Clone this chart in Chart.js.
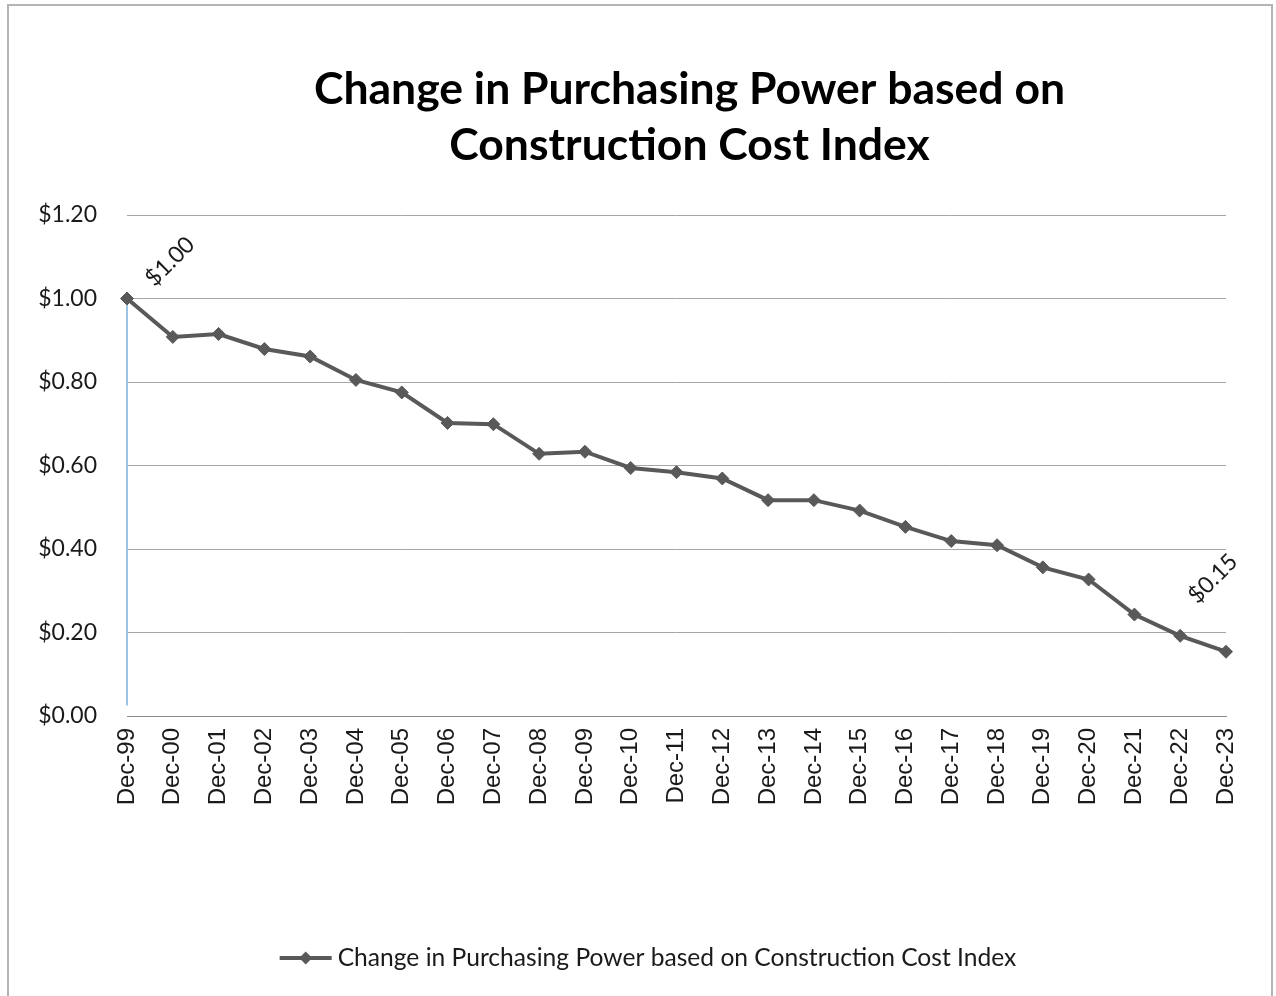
<!DOCTYPE html>
<html>
<head>
<meta charset="utf-8">
<title>Change in Purchasing Power based on Construction Cost Index</title>
<script src="https://cdn.jsdelivr.net/npm/chart.js@4.4.0/dist/chart.umd.min.js"></script>
<style>
html,body{margin:0;padding:0;background:#fff;}
#frame{position:absolute;left:7px;top:4px;width:1266px;height:1000px;border:2px solid #b4b4b4;box-sizing:border-box;background:#fff;}
#grafico{display:block;}
</style>
</head>
<body>
<div id="frame"><canvas id="grafico" width="1262" height="990"></canvas></div>
<script>
const periodos=[
    "Dec-99","Dec-00","Dec-01","Dec-02","Dec-03","Dec-04","Dec-05","Dec-06",
    "Dec-07","Dec-08","Dec-09","Dec-10","Dec-11","Dec-12","Dec-13","Dec-14",
    "Dec-15","Dec-16","Dec-17","Dec-18","Dec-19","Dec-20","Dec-21","Dec-22","Dec-23"];

const poderCompra=[
    1.000,0.908,0.915,0.879,0.861,0.805,0.775,0.702,
    0.699,0.628,0.633,0.594,0.584,0.569,0.517,0.517,
    0.492,0.453,0.419,0.409,0.356,0.327,0.243,0.192,0.154];

const yTicks=[0,0.2,0.4,0.6,0.8,1.0,1.2];

// puntos que llevan etiqueta (primero y ultimo)
const puntosEtiquetados=[0,24];

const tituloGrafico=["Change in Purchasing Power based on","Construction Cost Index"];
const nombreSerie="Change in Purchasing Power based on Construction Cost Index";

const COLOR_LINEA="#595959";
const FUENTE="Lato, 'Open Sans', sans-serif";

function dinero(v){
    return "$"+v.toFixed(2);
}

const extras={
  id:"extras",
  beforeDatasetsDraw(chart){
    // linea guia azul en el primer punto
    const ctx=chart.ctx;
    const x=chart.scales.x.getPixelForValue(0);
    const y=chart.scales.y;
    ctx.save();
    ctx.strokeStyle="#9dc3e6";
    ctx.lineWidth=2;
    ctx.beginPath();
    ctx.moveTo(x,y.getPixelForValue(poderCompra[0]));
    ctx.lineTo(x,y.getPixelForValue(0.025));
    ctx.stroke();
    ctx.restore();
  },
  afterDatasetsDraw(chart){
    const ctx=chart.ctx;
    const meta=chart.getDatasetMeta(0);
    const desplaza={0:[43,-37],24:[-13,-73]};
    ctx.save();
    ctx.font="23px "+FUENTE;
    ctx.fillStyle="#1a1a1a";
    ctx.textAlign="center";
    ctx.textBaseline="middle";
    puntosEtiquetados.forEach(i=>{
      const p=meta.data[i];
      const d=desplaza[i];
      ctx.save();
      ctx.translate(p.x+d[0],p.y+d[1]);
      ctx.rotate(-Math.PI/4);
      ctx.fillText(dinero(poderCompra[i]),0,0);
      ctx.restore();
    });
    ctx.restore();
  },
  afterDraw(chart){
    const ctx=chart.ctx;
    const area=chart.chartArea;
    ctx.save();
    // titulo en dos lineas
    ctx.font="bold 44.5px "+FUENTE;
    ctx.fillStyle="#000";
    ctx.textAlign="center";
    ctx.textBaseline="middle";
    const cxTitulo=(area.left+area.right)/2+13;
    tituloGrafico.forEach((t,i)=>ctx.fillText(t,cxTitulo,84+i*56));

    // leyenda abajo: linea con rombo + texto
    ctx.font="24.6px "+FUENTE;
    const w=ctx.measureText(nombreSerie).width;
    const muestra=52, hueco=6;
    const total=muestra+hueco+w;
    const x0=(chart.width-total)/2+8;
    const y0=chart.height-38;
    ctx.strokeStyle=COLOR_LINEA;
    ctx.lineWidth=4;
    ctx.beginPath();
    ctx.moveTo(x0,y0);
    ctx.lineTo(x0+muestra,y0);
    ctx.stroke();
    ctx.fillStyle=COLOR_LINEA;
    ctx.beginPath();
    const r=6.5, cx=x0+muestra/2;
    ctx.moveTo(cx,y0-r);ctx.lineTo(cx+r,y0);ctx.lineTo(cx,y0+r);ctx.lineTo(cx-r,y0);
    ctx.closePath();
    ctx.fill();
    ctx.fillStyle="#1a1a1a";
    ctx.textAlign="left";
    ctx.fillText(nombreSerie,x0+muestra+hueco,y0);
    ctx.restore();
  }
};

new Chart("grafico",{
  type:"line",
  data:{
    labels:periodos,
    datasets:[{
      label:nombreSerie,
      data:poderCompra,
      borderColor:COLOR_LINEA,
      backgroundColor:COLOR_LINEA,
      borderWidth:4,
      pointStyle:"rectRot",
      pointRadius:6.5,
      pointBorderWidth:1,
      pointBackgroundColor:COLOR_LINEA,
      pointBorderColor:COLOR_LINEA,
      fill:false,
      tension:0
    }]
  },
  options:{
    responsive:false,
    animation:false,
    layout:{padding:{left:0,right:45,top:209,bottom:170}},
    plugins:{
      legend:{display:false},
      tooltip:{enabled:false},
      title:{display:false}
    },
    scales:{
      x:{
        offset:false,
        grid:{display:false,drawTicks:false},
        border:{display:true,color:"#8c8c8c",width:1},
        ticks:{
          autoSkip:false,
          minRotation:90,
          maxRotation:90,
          padding:12,
          color:"#1a1a1a",
          font:{family:"'Liberation Sans', Arial, sans-serif",size:24}
        },
        afterFit(s){s.height=110;}
      },
      y:{
        min:0,
        max:1.2,
        afterBuildTicks(s){s.ticks=yTicks.map(v=>({value:v}));},
        grid:{color:"#a6a6a6",lineWidth:1,drawTicks:false},
        border:{display:false},
        ticks:{
          padding:30,
          color:"#1a1a1a",
          font:{family:FUENTE,size:23},
          callback:(v)=>dinero(v)
        },
        afterFit(s){s.width=118;}
      }
    }
  },
  plugins:[extras]
});
</script>
</body>
</html>
